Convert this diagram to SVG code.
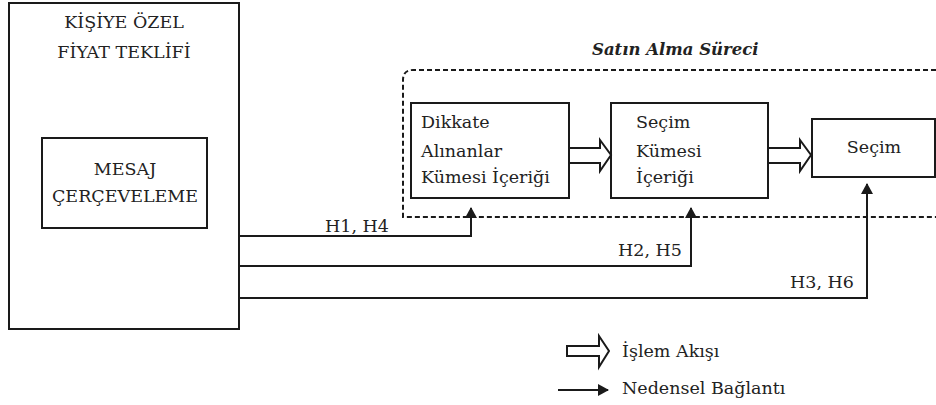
<svg xmlns="http://www.w3.org/2000/svg" width="936" height="405" viewBox="0 0 936 405">
<style>
.box{fill:#fff;stroke:#1a1a1a;stroke-width:2}
.t{font-family:"DejaVu Serif","Liberation Serif",serif;font-size:17.5px;fill:#222}
.c{text-anchor:middle}
.conn{fill:none;stroke:#1a1a1a;stroke-width:2}
.flow{fill:#fff;stroke:#1a1a1a;stroke-width:2;stroke-linejoin:miter}
.dash{fill:none;stroke:#1a1a1a;stroke-width:2;stroke-dasharray:5 3}
</style>
<defs>
<marker id="ah" markerUnits="userSpaceOnUse" markerWidth="11" markerHeight="12" refX="10" refY="6" orient="auto">
<path d="M0,0 L11,6 L0,12 z" fill="#1a1a1a"/>
</marker>
</defs>
<rect width="936" height="405" fill="#fff"/>
<g id="process">
<path class="dash" d="M936,70 H413 Q403,70 403,80 V217 H936"/>
<text class="t" x="592" y="55" style="font-style:italic;font-weight:bold;font-size:16.5px">Satın Alma Süreci</text>
</g>
<g id="offer">
<rect class="box" x="9" y="3" width="230" height="326"/>
<text class="t c" x="124" y="28">KİŞİYE ÖZEL</text>
<text class="t c" x="124" y="58">FİYAT TEKLİFİ</text>
</g>
<g id="framing">
<rect class="box" x="42" y="138" width="165" height="90"/>
<text class="t c" x="125" y="175">MESAJ</text>
<text class="t c" x="125" y="202">ÇERÇEVELEME</text>
</g>
<g id="consideration">
<rect class="box" x="411" y="103" width="158" height="95"/>
<text class="t" x="421" y="128">Dikkate</text>
<text class="t" x="421" y="157">Alınanlar</text>
<text class="t" x="421" y="183">Kümesi İçeriği</text>
</g>
<g id="choiceset">
<rect class="box" x="611" y="103" width="157" height="95"/>
<text class="t" x="636" y="128">Seçim</text>
<text class="t" x="636" y="157">Kümesi</text>
<text class="t" x="636" y="183">İçeriği</text>
</g>
<g id="choice">
<rect class="box" x="812" y="119" width="123" height="58"/>
<text class="t c" x="874" y="153">Seçim</text>
</g>
<g id="connectors">
<polygon class="flow" points="569,148 600,148 600,140 611,155 600,171 600,163 569,163"/>
<polygon class="flow" points="768,148 800,148 800,140 811,155 800,171 800,163 768,163"/>
<path class="conn" d="M240,236 H471 V208" marker-end="url(#ah)"/>
<path class="conn" d="M240,266 H691 V208" marker-end="url(#ah)"/>
<path class="conn" d="M240,298 H867 V184" marker-end="url(#ah)"/>
<text class="t" x="325" y="232">H1, H4</text>
<text class="t" x="618" y="256">H2, H5</text>
<text class="t" x="790" y="288">H3, H6</text>
</g>
<g id="legend">
<polygon class="flow" points="567,346 599,346 599,336 609,351 599,367 599,356 567,356"/>
<text class="t" x="622" y="357">İşlem Akışı</text>
<path class="conn" d="M558,390 H608" marker-end="url(#ah)"/>
<text class="t" x="622" y="394">Nedensel Bağlantı</text>
</g>
</svg>
